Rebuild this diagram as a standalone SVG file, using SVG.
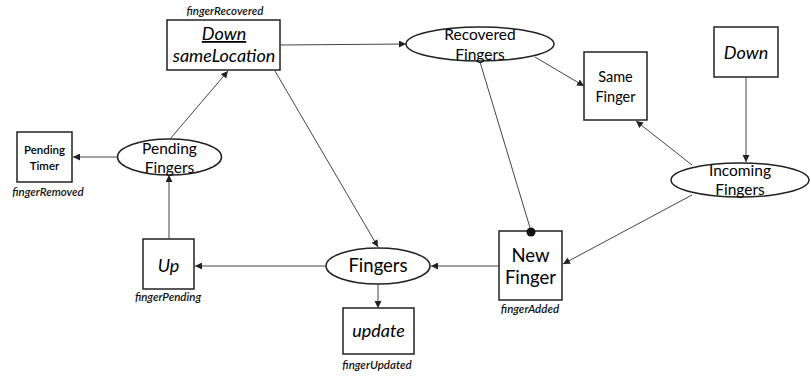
<svg xmlns="http://www.w3.org/2000/svg" width="811" height="376" viewBox="0 0 811 376">
<style>
.box{fill:#fff;stroke:#222;stroke-width:1.5}
.pl{fill:#fff;stroke:#222;stroke-width:1.5}
.t{font-family:Lato,"Noto Sans",sans-serif;fill:#000;text-anchor:middle}
.it{font-style:italic}
.lbl{font-family:Lato,"Noto Sans",sans-serif;font-style:italic;font-weight:600;font-size:11.5px;fill:#111;text-anchor:middle}
.c{stroke:#444;stroke-width:1;fill:none}
</style>
<defs>
<marker id="a" viewBox="0 0 10 10" refX="10" refY="5" markerWidth="7" markerHeight="7" orient="auto" markerUnits="userSpaceOnUse">
<path d="M0,0L10,5L0,10z" fill="#222"/>
</marker>
</defs>
<g id="down-sameLocation">
<rect class="box" x="167" y="20" width="113" height="50"/>
<text class="t it" x="224" y="40" font-size="18" text-decoration="underline">Down</text>
<text class="t it" x="224" y="62" font-size="18">sameLocation</text>
<text class="lbl" x="225" y="15">fingerRecovered</text>
</g>
<g id="pending-timer">
<rect class="box" x="17" y="132" width="55" height="50"/>
<text class="t" x="44.5" y="154" font-size="11.5" font-weight="600">Pending</text>
<text class="t" x="44.5" y="170" font-size="11.5" font-weight="600">Timer</text>
<text class="lbl" x="48" y="196">fingerRemoved</text>
</g>
<g id="pending-fingers">
<ellipse class="pl" cx="169.5" cy="157" rx="52" ry="18"/>
<text class="t" x="169.5" y="154" font-size="15.5">Pending</text>
<text class="t" x="169.5" y="173" font-size="15.5">Fingers</text>
</g>
<g id="recovered-fingers">
<ellipse class="pl" cx="480" cy="44" rx="74" ry="17"/>
<text class="t" x="480" y="40" font-size="15.5">Recovered</text>
<text class="t" x="480" y="60" font-size="15.5">Fingers</text>
</g>
<g id="same-finger">
<rect class="box" x="584" y="52" width="63" height="68"/>
<text class="t" x="615.5" y="82" font-size="14.5">Same</text>
<text class="t" x="615.5" y="102" font-size="14.5">Finger</text>
</g>
<g id="down">
<rect class="box" x="714" y="27" width="64" height="50"/>
<text class="t it" x="746" y="59" font-size="18">Down</text>
</g>
<g id="incoming-fingers">
<ellipse class="pl" cx="740" cy="180" rx="69" ry="17"/>
<text class="t" x="740" y="176" font-size="15.5">Incoming</text>
<text class="t" x="740" y="195" font-size="15.5">Fingers</text>
</g>
<g id="new-finger">
<rect class="box" x="499" y="231" width="63" height="69"/>
<text class="t" x="530.5" y="262" font-size="18.5">New</text>
<text class="t" x="530.5" y="284" font-size="18.5">Finger</text>
<text class="lbl" x="530" y="313">fingerAdded</text>
</g>
<g id="fingers">
<ellipse class="pl" cx="378" cy="266" rx="52" ry="18"/>
<text class="t" x="378" y="272" font-size="18.5">Fingers</text>
</g>
<g id="up">
<rect class="box" x="143" y="239" width="51" height="50"/>
<text class="t it" x="168.5" y="272" font-size="18">Up</text>
<text class="lbl" x="168" y="301">fingerPending</text>
</g>
<g id="update">
<rect class="box" x="343" y="308" width="71" height="46"/>
<text class="t it" x="378.5" y="337" font-size="18">update</text>
<text class="lbl" x="377" y="369">fingerUpdated</text>
</g>
<g id="connectors">
<line class="c" x1="170" y1="139" x2="228" y2="71" marker-end="url(#a)"/>
<line class="c" x1="117" y1="157" x2="73" y2="157" marker-end="url(#a)"/>
<line class="c" x1="280" y1="45" x2="406" y2="44" marker-end="url(#a)"/>
<line class="c" x1="275" y1="71" x2="378" y2="247" marker-end="url(#a)"/>
<line class="c" x1="535" y1="57" x2="584" y2="86" marker-end="url(#a)"/>
<line class="c" x1="480" y1="62" x2="531" y2="231"/>
<circle cx="531" cy="232" r="4.5" fill="#111"/>
<line class="c" x1="746" y1="77" x2="746" y2="162" marker-end="url(#a)"/>
<line class="c" x1="692" y1="165" x2="636" y2="121" marker-end="url(#a)"/>
<line class="c" x1="692" y1="195" x2="563" y2="264" marker-end="url(#a)"/>
<line class="c" x1="499" y1="266" x2="431" y2="266" marker-end="url(#a)"/>
<line class="c" x1="326" y1="266" x2="195" y2="266" marker-end="url(#a)"/>
<line class="c" x1="169" y1="239" x2="169" y2="175" marker-end="url(#a)"/>
<line class="c" x1="378" y1="284" x2="378" y2="308" marker-end="url(#a)"/>
</g>
</svg>
